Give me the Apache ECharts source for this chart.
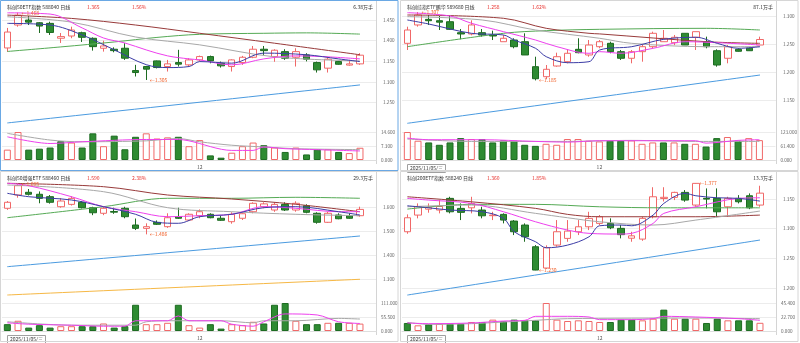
<!DOCTYPE html>
<html>
<head>
<meta charset="utf-8">
<script src="https://cdn.jsdelivr.net/npm/echarts@6/dist/echarts.min.js"></script>
<style>
  html, body { margin: 0; padding: 0; background: #ffffff; }
  #chart { width: 800px; height: 343px; }
</style>
</head>
<body>
<div id="chart"></div>
<script>
// Trading days shown in every panel
const dates = [
  '2025/11/05','2025/11/06','2025/11/07','2025/11/10','2025/11/11','2025/11/12','2025/11/13','2025/11/14',
  '2025/11/17','2025/11/18','2025/11/19','2025/11/20','2025/11/21','2025/11/24','2025/11/25','2025/11/26',
  '2025/11/27','2025/11/28','2025/12/01','2025/12/02','2025/12/03','2025/12/04','2025/12/05','2025/12/08',
  '2025/12/09','2025/12/10','2025/12/11','2025/12/12','2025/12/15','2025/12/16','2025/12/17','2025/12/18',
  '2025/12/19','2025/12/22'
];

// ---------- 科创50ETF指数 588040 ----------  [open, close, low, high]
const kA = [
  [1.3825,1.421,1.373,1.431],[1.438,1.462,1.434,1.468],[1.450,1.445,1.438,1.4596],[1.4435,1.4355,1.4187,1.445],
  [1.442,1.420,1.414,1.446],[1.406,1.410,1.3946,1.4187],[1.4114,1.4259,1.406,1.434],[1.4194,1.4083,1.397,1.4218],
  [1.4059,1.3857,1.376,1.408],[1.3818,1.3873,1.3736,1.400],[1.3794,1.376,1.372,1.384],[1.3818,1.3577,1.3536,1.394],
  [1.3278,1.323,1.3134,1.3416],[1.3375,1.3312,1.305,1.339],[1.3512,1.3351,1.333,1.352],[1.3375,1.344,1.3254,1.3536],
  [1.3471,1.3433,1.3375,1.378],[1.3416,1.3536,1.3375,1.3577],[1.3536,1.3616,1.350,1.364],[1.3616,1.3512,1.3453,1.364],
  [1.3457,1.3392,1.335,1.3495],[1.3375,1.3536,1.3254,1.355],[1.3471,1.360,1.3416,1.3633],[1.360,1.3794,1.3577,1.3873],
  [1.3794,1.376,1.3657,1.3873],[1.3616,1.377,1.349,1.3794],[1.3736,1.3577,1.3536,1.3794],[1.360,1.3736,1.3375,1.3818],
  [1.3657,1.3553,1.350,1.3698],[1.3471,1.3295,1.323,1.3495],[1.3336,1.3553,1.323,1.360],[1.3495,1.343,1.342,1.3512],
  [1.341,1.344,1.3395,1.3536],[1.344,1.365,1.3416,1.3698]
];
const volA = [5.4,14.6,5.4,5.9,6.5,9.8,9.1,6.5,13.9,7.2,12.7,5.6,12.1,13.9,11.2,11.8,12.1,7.2,10.4,2.4,1.2,3.8,7.2,9.1,7.7,6.5,4.2,6.5,2.9,5.6,5.6,4.2,3.6,6.38];
const prevCloseA = 1.38;
const ma5A = [[0,1.442],[4,1.438],[7,1.414],[10.25,1.378],[12.75,1.342],[15,1.335],[16.5,1.3375],[18,1.3495],[21.2,1.3457],[24.3,1.370],[27.5,1.366],[30.6,1.356],[33,1.3495]];
const ma10A = [[0,1.4675],[4,1.4645],[7,1.431],[9,1.4066],[11,1.3946],[13,1.3777],[15,1.3633],[17,1.356],[18,1.3536],[21,1.3416],[24,1.356],[27,1.3633],[30,1.361],[33,1.356]];
const ma20A = [[0,1.458],[5.6,1.445],[11.8,1.409],[18,1.390],[25,1.361],[33,1.351]];
const ma60A = [[0,1.462],[6,1.454],[12,1.438],[18,1.418],[25,1.394],[33,1.366]];
const ma120A = [[0,1.374],[5,1.385],[10,1.397],[14,1.408],[18,1.4155],[24,1.418],[28,1.419],[33,1.416]];
const ma250A = [[0,1.201],[33,1.293]];
const volMa5A = [[0,12.1],[4,8.6],[7.1,9.5],[12.75,10.7],[15.9,10.7],[17.4,10.0],[20.9,5.0],[22.75,5.0],[24.3,6.8],[25.9,5.9],[29,5.4],[32.75,4.7]];
const volMa10A = [[0,13.9],[4,10.4],[7.1,9.5],[12.75,10.0],[15.9,11.2],[18.1,9.5],[21.2,7.7],[24.3,6.8],[27.4,5.9],[32.75,5.4]];
const volTicksA = ['0.000','7.300','14.600'];

// ---------- 科创综指ETF 589680 ----------
const kB = [
  [1.2512,1.275,1.2393,1.2809],[1.284,1.3018,1.281,1.307],[1.294,1.2916,1.284,1.3018],[1.2916,1.289,1.275,1.300],
  [1.2898,1.2762,1.275,1.300],[1.2702,1.2679,1.2584,1.2768],[1.2679,1.284,1.2655,1.2923],[1.2702,1.266,1.2631,1.2768],
  [1.266,1.2643,1.2571,1.2738],[1.2541,1.2602,1.2541,1.2661],[1.2571,1.2452,1.2423,1.2602],[1.2541,1.2304,1.2304,1.2691],
  [1.2095,1.188,1.185,1.2273],[1.1916,1.2048,1.187,1.2125],[1.2107,1.2273,1.2095,1.2345],[1.2184,1.2334,1.2155,1.2405],
  [1.2405,1.2345,1.2334,1.2602],[1.2304,1.2482,1.2273,1.2571],[1.2452,1.2541,1.2423,1.2571],[1.2512,1.2363,1.2334,1.2541],
  [1.2363,1.2245,1.2215,1.2393],[1.2245,1.2363,1.2155,1.2393],[1.2363,1.2452,1.2184,1.2482],[1.2452,1.2691,1.2423,1.272],
  [1.2541,1.2602,1.2541,1.275],[1.2523,1.262,1.248,1.2661],[1.2691,1.2482,1.2482,1.2691],[1.262,1.272,1.2393,1.272],
  [1.2541,1.2452,1.2423,1.2631],[1.238,1.2125,1.2095,1.2405],[1.2245,1.2452,1.2155,1.2482],[1.2405,1.237,1.2365,1.2423],
  [1.2425,1.238,1.2375,1.2435],[1.2482,1.258,1.2482,1.2631]
];
const volB = [122.8,84.5,77,66.7,77,96,92,92,77,86,84.5,66.7,62,71,66.7,92,92,84.5,81.5,84.5,84.5,86,71,77,77,77,71,71,59,96,100.8,84.5,96,87.1];
const prevCloseB = 1.26;
const ma5B = [[0,1.2929],[2.4,1.2857],[5.6,1.2691],[8.7,1.2661],[10.25,1.2571],[11.8,1.2423],[13.4,1.2273],[14.9,1.2166],[16.5,1.2184],[18.1,1.2393],[21.2,1.2452],[24.3,1.2584],[26.8,1.262],[29,1.2512],[31.2,1.2423],[32.8,1.2452]];
const ma10B = [[0,1.3059],[4,1.300],[5.6,1.287],[8.7,1.272],[11.8,1.2571],[14.3,1.2452],[16.5,1.2334],[18.1,1.2363],[19.6,1.2334],[22.8,1.2423],[25.9,1.2541],[29,1.2523],[32.8,1.2482]];
const ma20B = [[0,1.2988],[7.1,1.2929],[11.8,1.275],[18.1,1.2602],[21.2,1.2512],[27.5,1.2452],[32.8,1.2452]];
const ma60B = [[0,1.3018],[8.7,1.2959],[13.4,1.278],[16.5,1.2691],[18.1,1.268],[27.5,1.2541],[32.8,1.2512]];
const ma120B = [[0,1.2452],[8.7,1.2691],[13.4,1.2738],[18.1,1.2762],[27.5,1.278],[32.8,1.275]];
const ma250B = [[0,1.1084],[32.8,1.1946]];
const volMa5B = [[0,96],[2.4,89],[7.1,89],[11.8,81.5],[14.9,78.5],[18.1,84.5],[27.4,84.5],[28.4,74],[30.6,86],[32.75,89]];
const volMa10B = [[0,92],[5.6,81.5],[14.9,81.5],[21.2,86],[27.4,81.5],[32.75,81.5]];
const volTicksB = ['0.000','61.400','123.000'];

// ---------- 科创50增强ETF 588460 ----------
const kC = [
  [1.5946,1.6196,1.588,1.625],[1.650,1.6888,1.6388,1.695],[1.6613,1.653,1.648,1.675],[1.653,1.636,1.6155,1.665],
  [1.643,1.6196,1.614,1.650],[1.6013,1.625,1.597,1.6375],[1.611,1.636,1.606,1.645],[1.6196,1.597,1.594,1.625],
  [1.597,1.576,1.566,1.601],[1.5738,1.5946,1.566,1.601],[1.5813,1.5785,1.5715,1.597],[1.5946,1.5596,1.553,1.601],
  [1.525,1.511,1.504,1.552],[1.511,1.518,1.486,1.532],[1.536,1.528,1.525,1.544],[1.518,1.5554,1.513,1.5738],
  [1.5596,1.553,1.550,1.597],[1.5458,1.5696,1.5415,1.5738],[1.5638,1.5804,1.553,1.590],[1.5696,1.5554,1.553,1.5738],
  [1.553,1.5446,1.542,1.5638],[1.5388,1.5696,1.5304,1.578],[1.553,1.572,1.5458,1.5738],[1.5804,1.6154,1.5738,1.6196],
  [1.6013,1.613,1.5946,1.6196],[1.5875,1.611,1.580,1.6196],[1.611,1.5875,1.5833,1.6196],[1.5875,1.6154,1.5804,1.6238],
  [1.6054,1.5779,1.5738,1.6113],[1.5738,1.5363,1.5304,1.578],[1.5363,1.5738,1.5335,1.5804],[1.5667,1.551,1.549,1.5738],
  [1.5638,1.553,1.551,1.5738],[1.5638,1.590,1.5596,1.6013]
];
const volC = [27.1,40.6,13.5,23,13.5,19,19,19,19,29.8,13.5,19,104,27,27,32.5,104,23,13.5,27,9.5,27,23,36.6,29.8,104,111,40.6,27,27,32.5,32.5,32.5,29.3];
const prevCloseC = 1.63;
const ma5C = [[0,1.6571],[2.4,1.6429],[5.6,1.6292],[8.7,1.6013],[11.8,1.5696],[14,1.5363],[15.6,1.5321],[18.1,1.5596],[21.2,1.5696],[24.3,1.5971],[27.4,1.6013],[30.6,1.5804],[32.75,1.5667]];
const ma10C = [[0,1.6988],[2.4,1.6888],[5.6,1.6429],[8.7,1.6013],[11.8,1.5804],[14.9,1.5596],[18.1,1.5638],[21.2,1.5696],[24.3,1.6013],[27.4,1.5946],[30.6,1.5804],[32.75,1.5804]];
const ma20C = [[0,1.6917],[8.7,1.6638],[14.9,1.5971],[21.2,1.5804],[27.4,1.5696],[32.75,1.5638]];
const ma60C = [[0,1.6988],[8.7,1.6846],[14.9,1.65],[21.2,1.6333],[27.4,1.6113],[32.75,1.5804]];
const ma120C = [[0,1.5554],[8.7,1.6013],[14.9,1.6363],[21.2,1.6363],[27.4,1.6404],[32.75,1.6363]];
const ma250C = [[0,1.3513],[32.75,1.4792]];
const maLongC = [[0,1.2333],[32.75,1.2988]];
const volMa5C = [[0,32.5],[2.4,27],[5.6,23],[8.7,19],[11.2,19],[12.4,40.6],[14.9,40.6],[15.9,59.6],[16.8,40.6],[19.6,40.6],[21.2,27],[22.75,19],[24.3,36.6],[25.9,67.7],[29,63.6],[30.6,36.6],[32.75,29.8]];
const volMa10C = [[0,36.6],[5.6,23],[11.8,23],[13.4,36.6],[14.9,40.6],[19.6,40.6],[22.75,32.5],[24.3,40.6],[27.4,40.6],[30.6,50],[32.75,47.4]];
const volTicksC = ['0.000','55.500','111.000'];

// ---------- 科创200ETF指数 588240 ----------
const kD = [
  [1.2949,1.3185,1.2915,1.3242],[1.323,1.337,1.3175,1.3427],[1.333,1.336,1.327,1.3427],[1.3315,1.3375,1.3259,1.3483],
  [1.3512,1.3286,1.3259,1.3539],[1.3343,1.3276,1.3146,1.3427],[1.3353,1.3427,1.3259,1.3539],[1.3315,1.3218,1.3175,1.3371],
  [1.322,1.323,1.3146,1.3286],[1.3242,1.3146,1.309,1.3259],[1.3129,1.2949,1.2893,1.3146],[1.3062,1.2864,1.278,1.309],
  [1.2696,1.2303,1.230,1.2724],[1.2337,1.2679,1.232,1.272],[1.2724,1.2949,1.2696,1.3146],[1.2837,1.296,1.278,1.3146],
  [1.2949,1.3033,1.2893,1.3146],[1.3033,1.3175,1.2977,1.3286],[1.309,1.3202,1.3062,1.3231],[1.309,1.3016,1.2993,1.3175],
  [1.3006,1.290,1.2837,1.3062],[1.284,1.288,1.278,1.2949],[1.2825,1.3175,1.2796,1.3202],[1.3202,1.3539,1.3175,1.370],
  [1.351,1.353,1.346,1.370],[1.3529,1.3613,1.3483,1.3624],[1.3613,1.3483,1.3455,1.3652],[1.3399,1.3765,1.337,1.377],
  [1.3512,1.350,1.3343,1.368],[1.3512,1.3286,1.3202,1.368],[1.337,1.3512,1.3202,1.3539],[1.3512,1.3455,1.3427,1.3567],
  [1.3556,1.3353,1.333,1.3596],[1.3399,1.360,1.337,1.3725]
];
const volD = [13,9.2,10.8,11.9,11.9,11.9,14.6,14.6,18.4,15.7,18.4,17.3,17.3,45.4,18.4,16.2,17.3,16.2,14.6,14.6,18.4,18.4,17.3,20,34.6,20,20,20,13,20,17.3,17.3,17.3,13.3];
const prevCloseD = 1.325;
const ma5D = [[0,1.3387],[2.4,1.3353],[4,1.3315],[7.1,1.3286],[8.7,1.3175],[10.25,1.2949],[11.8,1.278],[13.4,1.2679],[14.9,1.2724],[16.5,1.2864],[18.1,1.305],[19.6,1.3062],[21.2,1.305],[22.75,1.323],[24.3,1.3427],[25.9,1.3596],[27.4,1.3556],[29,1.3522],[30.6,1.3512],[32.75,1.3466]];
const ma10D = [[0,1.3512],[2.4,1.3483],[5.6,1.3427],[8.7,1.3286],[11.8,1.3117],[14.9,1.2977],[16.5,1.2922],[19.6,1.291],[21.2,1.2922],[22.75,1.309],[24.3,1.3259],[27.4,1.337],[30.6,1.3512],[32.75,1.3522]];
const ma20D = [[0,1.337],[5.6,1.3399],[11.8,1.3259],[14.9,1.3185],[18.1,1.3117],[22.75,1.3062],[27.4,1.3146],[32.75,1.3298]];
const ma60D = [[0,1.3539],[5.6,1.3454],[11.8,1.3343],[14.9,1.3242],[18.1,1.3202],[27.4,1.3202],[32.75,1.323]];
const ma120D = [[0,1.3331],[5.6,1.3411],[11.8,1.3411],[18.1,1.337],[24.3,1.3353],[32.75,1.3353]];
const ma250D = [[0,1.1881],[32.75,1.2809]];
const volMa5D = [[0,13],[2.4,11.9],[5.6,13],[8.7,16.2],[11.2,17.3],[12.4,23.8],[14.9,23.8],[16.8,22.7],[18.1,18.4],[21.2,18.4],[22.75,20],[24.3,23.8],[27.4,22.7],[30.6,20],[32.75,17.3]];
const volMa10D = [[0,14],[2.4,10.8],[5.6,11.9],[8.7,14.6],[11.8,17.3],[14.9,20],[27.4,21],[32.75,20]];
const volTicksD = ['0.000','22.700','45.400'];

// ---------- colours ----------
const UP = '#f06868', DOWN = '#2e8b32', DOWN_EDGE = '#1d6b21';
const C_MA5 = '#3c3ca6', C_MA10 = '#ee40ee', C_MA20 = '#a8a8a8', C_MA60 = '#983a3a',
      C_MA120 = '#55aa55', C_MA250 = '#4b9be0', C_MALONG = '#f6b845';
const FONT = '"Noto Sans CJK SC", "Noto Sans", sans-serif';

// ---------- panel layout ----------
const panels = [
  { ox: 0, oy: 0, title: '科创50ETF指数 588040 日线', price: '1.365', pct: '1.56%', volText: '6.38万手',
    k: kA, vol: volA, prevClose: prevCloseA, volTicks: volTicksA,
    ma: [[ma250A, C_MA250], [ma120A, C_MA120], [ma60A, C_MA60], [ma20A, C_MA20], [ma10A, C_MA10], [ma5A, C_MA5]],
    volMa: [[volMa10A, C_MA20], [volMa5A, C_MA10]],
    pMin: 1.25, pMax: 1.47, pStep: 0.05, pTop: 11.8, pBottom: 102.7, dateBox: false, active: true },
  { ox: 400, oy: 0, title: '科创综指ETF鹏华 589680 日线', price: '1.258', pct: '1.62%', volText: '87.1万手',
    k: kB, vol: volB, prevClose: prevCloseB, volTicks: volTicksB,
    ma: [[ma250B, C_MA250], [ma120B, C_MA120], [ma60B, C_MA60], [ma20B, C_MA20], [ma10B, C_MA10], [ma5B, C_MA5]],
    volMa: [[volMa10B, C_MA20], [volMa5B, C_MA10]],
    pMin: 1.15, pMax: 1.31, pStep: 0.05, pTop: 10.4, pBottom: 100, dateBox: true },
  { ox: 0, oy: 171, title: '科创50增强ETF 588460 日线', price: '1.590', pct: '2.38%', volText: '29.3万手',
    k: kC, vol: volC, prevClose: prevCloseC, volTicks: volTicksC,
    ma: [[maLongC, C_MALONG], [ma250C, C_MA250], [ma120C, C_MA120], [ma60C, C_MA60], [ma20C, C_MA20], [ma10C, C_MA10], [ma5C, C_MA5]],
    volMa: [[volMa10C, C_MA20], [volMa5C, C_MA10]],
    pMin: 1.3, pMax: 1.70, pStep: 0.1, pTop: 12, pBottom: 108, dateBox: true },
  { ox: 400, oy: 171, title: '科创200ETF指数 588240 日线', price: '1.360', pct: '1.85%', volText: '13.3万手',
    k: kD, vol: volD, prevClose: prevCloseD, volTicks: volTicksD,
    ma: [[ma250D, C_MA250], [ma120D, C_MA120], [ma60D, C_MA60], [ma20D, C_MA20], [ma10D, C_MA10], [ma5D, C_MA5]],
    volMa: [[volMa10D, C_MA20], [volMa5D, C_MA10]],
    pMin: 1.2, pMax: 1.38, pStep: 0.05, pTop: 10.3, pBottom: 117, dateBox: true }
];

const PLOT_W = 374;          // width of the plotting area inside a panel
const AXIS_X = 376;          // x of the price-axis separator inside a panel
const VOL_TOP = 132, VOL_BOTTOM = 160;

const categories = dates.concat(['']);
function monthMark(i) {
  if (i <= 0 || i >= dates.length) return '';
  const m = dates[i].slice(5, 7), pm = dates[i - 1].slice(5, 7);
  return m !== pm ? String(parseInt(m, 10)) : '';
}
const WEEK = ['日', '一', '二', '三', '四', '五', '六'];
function dateTag(d) {
  const p = d.split('/').map(Number);
  return d + '/' + WEEK[new Date(p[0], p[1] - 1, p[2]).getDay()];
}

const option = {
  animation: false,
  backgroundColor: '#ffffff',
  grid: [], xAxis: [], yAxis: [], series: [], graphic: []
};

panels.forEach((p) => {
  const gi = option.grid.length;
  option.grid.push({ left: p.ox + 2, top: p.oy + p.pTop, width: PLOT_W, height: p.pBottom - p.pTop });
  option.grid.push({ left: p.ox + 2, top: p.oy + VOL_TOP, width: PLOT_W, height: VOL_BOTTOM - VOL_TOP });

  option.xAxis.push({ type: 'category', gridIndex: gi, data: categories, boundaryGap: true, show: false });
  option.xAxis.push({
    type: 'category', gridIndex: gi + 1, data: categories, boundaryGap: true,
    axisLine: { show: true, lineStyle: { color: '#dedede' } }, axisTick: { show: false },
    axisLabel: { interval: 0, margin: 5, fontSize: 5, color: '#555', fontFamily: FONT,
                 formatter: (v, i) => monthMark(i) }
  });

  option.yAxis.push({
    type: 'value', gridIndex: gi, position: 'right', scale: true,
    min: p.pMin, max: p.pMax, interval: p.pStep,
    axisLine: { show: false }, axisTick: { show: false },
    axisLabel: { margin: 7, fontSize: 4.6, color: '#666', fontFamily: FONT, showMaxLabel: false,
                 formatter: (v) => v.toFixed(3) },
    splitLine: { show: true, showMaxLine: false, lineStyle: { color: '#ececec', width: 1 } }
  });
  const vMax = parseFloat(p.volTicks[1]) * 2;
  option.yAxis.push({
    type: 'value', gridIndex: gi + 1, position: 'right',
    min: 0, max: vMax, interval: vMax / 2,
    axisLine: { show: false }, axisTick: { show: false },
    axisLabel: { margin: 5, fontSize: 4.6, color: '#666', fontFamily: FONT,
                 formatter: (v, i) => p.volTicks[i] || '' },
    splitLine: { show: true, lineStyle: { color: '#ececec', width: 1 } }
  });

  // moving-average lines on the price grid
  p.ma.forEach(([data, color]) => {
    option.series.push({
      type: 'line', xAxisIndex: gi, yAxisIndex: gi, data: data, smooth: 0.35,
      showSymbol: false, clip: false, silent: true, z: 3,
      lineStyle: { color: color, width: 1 }
    });
  });

  // candlesticks with high / low annotations
  let hiIdx = 0, loIdx = 0;
  p.k.forEach((d, i) => {
    if (d[3] > p.k[hiIdx][3]) hiIdx = i;
    if (d[2] < p.k[loIdx][2]) loIdx = i;
  });
  option.series.push({
    type: 'candlestick', xAxisIndex: gi, yAxisIndex: gi, data: p.k, barWidth: 7, silent: true, z: 2,
    itemStyle: { color: '#ffffff', color0: DOWN, borderColor: UP, borderColor0: DOWN_EDGE, borderWidth: 1 },
    markPoint: {
      silent: true, symbol: 'circle', symbolSize: 1, itemStyle: { color: 'rgba(0,0,0,0)' },
      label: { show: true, position: 'right', distance: 3, color: '#f0622c', fontSize: 5, fontFamily: FONT,
               formatter: (q) => '\u2190' + q.value.toFixed(3) },
      data: [
        { coord: [hiIdx, p.k[hiIdx][3]], value: p.k[hiIdx][3] },
        { coord: [loIdx, p.k[loIdx][2]], value: p.k[loIdx][2] }
      ]
    }
  });

  // volume bars: red hollow when close rises over the previous close
  const volData = p.vol.map((v, i) => {
    const prev = i === 0 ? p.prevClose : p.k[i - 1][1];
    const up = p.k[i][1] >= prev;
    return { value: v, itemStyle: up
      ? { color: '#ffffff', borderColor: UP, borderWidth: 1 }
      : { color: DOWN, borderColor: DOWN_EDGE, borderWidth: 1 } };
  });
  option.series.push({ type: 'bar', xAxisIndex: gi + 1, yAxisIndex: gi + 1, data: volData, barWidth: 7, silent: true, z: 2 });
  p.volMa.forEach(([data, color]) => {
    option.series.push({
      type: 'line', xAxisIndex: gi + 1, yAxisIndex: gi + 1, data: data, smooth: 0.3,
      showSymbol: false, clip: false, silent: true, z: 3, lineStyle: { color: color, width: 1 }
    });
  });

  // header texts
  const ty = p.oy + 7;
  const txt = (x, text, color, align) => ({
    type: 'text', x: x, y: ty, silent: true,
    style: { text: text, fill: color, font: '5px ' + FONT, textAlign: align || 'left', textVerticalAlign: 'middle' }
  });
  option.graphic.push(txt(p.ox + 7, p.title, '#333333'));
  option.graphic.push(txt(p.ox + 87, p.price, '#e8302c'));
  option.graphic.push(txt(p.ox + 132, p.pct, '#e8302c'));
  option.graphic.push(txt(p.ox + 373, p.volText, '#333333', 'right'));

  // price-axis separator
  option.graphic.push({ type: 'line', silent: true,
    shape: { x1: p.ox + AXIS_X + 0.5, y1: p.oy + 1, x2: p.ox + AXIS_X + 0.5, y2: p.oy + 164 },
    style: { stroke: '#d4d4d4', lineWidth: 1 } });

  // date tag of the first visible day
  if (p.dateBox) {
    option.graphic.push({ type: 'rect', silent: true,
      shape: { x: p.ox + 7.5, y: p.oy + 164.5, width: 38, height: 8 },
      style: { fill: '#ffffff', stroke: '#a0a0a0', lineWidth: 1 } });
    option.graphic.push({ type: 'text', silent: true, x: p.ox + 26.5, y: p.oy + 168.5,
      style: { text: dateTag(dates[0]), fill: '#333333', font: '5px ' + FONT,
               textAlign: 'center', textVerticalAlign: 'middle' } });
  }

  // panel frame
  option.graphic.push({ type: 'rect', silent: true, z: 100,
    shape: { x: p.ox + 0.5, y: p.oy + 0.5, width: 397.5, height: 170 },
    style: { fill: 'none', stroke: p.active ? '#6aa8e4' : '#d6d6d6', lineWidth: 1 } });
});

const chart = echarts.init(document.getElementById('chart'), null, { renderer: 'canvas' });
chart.setOption(option);
</script>
</body>
</html>
